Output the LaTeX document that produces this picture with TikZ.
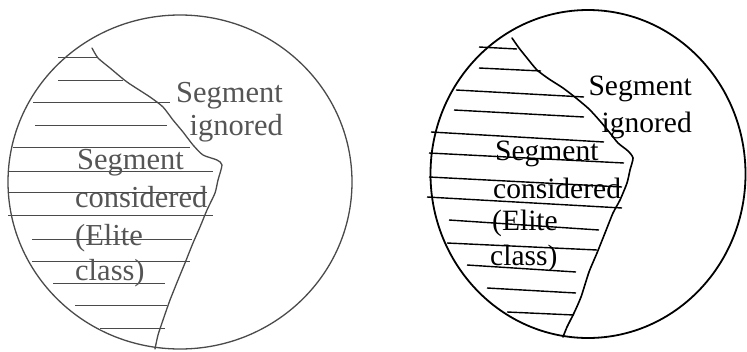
\documentclass[tikz,border=0pt]{standalone}
\usepackage{fontspec}
\setmainfont{Liberation Serif}
\definecolor{fadeink}{HTML}{4A4A4A}
\definecolor{fadetext}{HTML}{555555}
\begin{document}
\begin{tikzpicture}[x=1pt,y=-1pt,
  lring/.style={draw=fadeink,line width=1.3pt},
  lhatch/.style={draw=fadeink,line width=1pt},
  lbound/.style={draw=fadeink,line width=1.3pt,line join=round,line cap=round},
  ltext/.style={text=fadetext,inner sep=0pt,font=\fontsize{30.5}{34}\selectfont},
  rring/.style={draw=black,line width=1.8pt},
  rhatch/.style={draw=black,line width=1.4pt},
  rbound/.style={draw=black,line width=1.6pt,line join=round,line cap=round},
  rtext/.style={text=black,inner sep=0pt,font=\fontsize{29.5}{33}\selectfont}]
\useasboundingbox (0,0) rectangle (747,351);
\fill[white] (0,0) rectangle (747,351);

% ---------------- left figure ----------------
\draw[lring] (180,182) ellipse [x radius=172, y radius=167];
\foreach \xa/\xb/\yy in {58/97/57, 58/123/80, 33/170/102, 35/167/125, 13/190/147,
  8/213/171, 8/207/192, 8/213/215, 32/192/239, 32/190/261, 53/165/283,
  75/167/305, 100/165/328}
  \draw[lhatch] (\xa,\yy) -- (\xb,\yy);
\draw[lbound] plot[smooth,tension=0.4] coordinates {(92,48) (98,58) (110,68) (127,82)
  (150,97) (163,107) (173,120) (183,132) (193,145) (203,155) (217,160) (222,165)
  (218,180) (215,193) (207,210) (200,227) (193,243) (185,263) (178,280) (170,300)
  (163,320) (158,335) (155,349)};
\node[ltext,anchor=base east] (lig1) at (283,102) {Segment};
\node[ltext,anchor=base east] (lig2) at (283,135) {ignored};
\node[ltext,anchor=base west] (lco1) at (77,169) {Segment};
\node[ltext,anchor=base west] (lco2) at (75,207) {considered};
\node[ltext,anchor=base west] (lco3) at (75,245) {(Elite};
\node[ltext,anchor=base west] (lco4) at (75,280) {class)};

% ---------------- right figure ----------------
\draw[rring] (588,174) ellipse [x radius=157.5, y radius=164];
\foreach \xa/\ya/\xb/\yb in {479/47/517/49, 479/68/541/71, 456/90/584/97,
  454/110/584/117, 431/132/604/142, 429/153/624/163, 429/177/622/187,
  427/197/622/208, 449/220/599/230, 447/243/597/250, 467/265/576/272,
  487/288/576/293, 507/312/574/315}
  \draw[rhatch] (\xa,\ya) -- (\xb,\yb);
\draw[rbound] plot[smooth,tension=0.4] coordinates {(512,38) (519,48) (527,58)
  (537,70) (549,79) (563,88) (576,98) (589,109) (600,121) (610,133) (618,143)
  (628,151) (633,158) (630,170) (627,183) (620,200) (613,213) (605,233) (597,253)
  (589,272) (581,297) (574,313) (567,327) (563,337)};
\node[rtext,anchor=base east] (rig1) at (692,95) {Segment};
\node[rtext,anchor=base east] (rig2) at (692,132) {ignored};
\node[rtext,anchor=base west] (rco1) at (495,160) {Segment};
\node[rtext,anchor=base west] (rco2) at (493,198) {considered};
\node[rtext,anchor=base west] (rco3) at (492,230) {(Elite};
\node[rtext,anchor=base west] (rco4) at (490,265) {class)};
\end{tikzpicture}
\end{document}
